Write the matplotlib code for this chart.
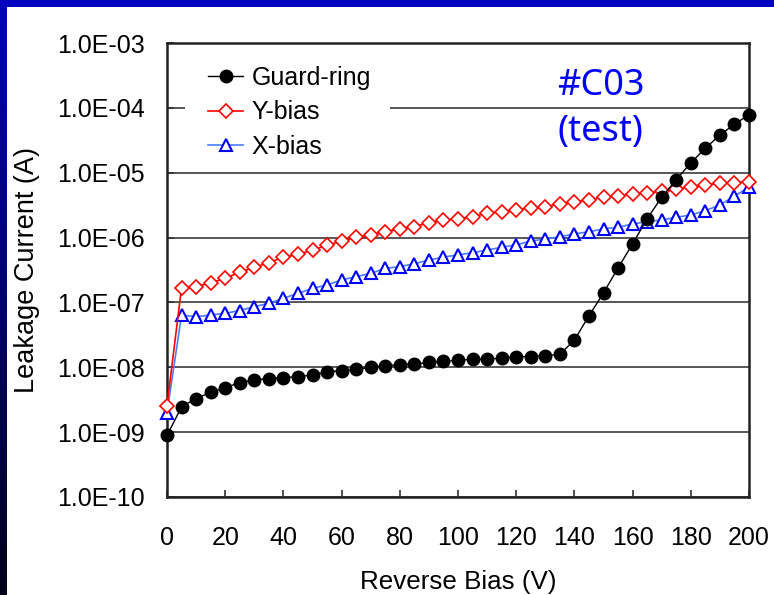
import matplotlib
matplotlib.use("Agg")
import matplotlib.pyplot as plt
import numpy as np
from matplotlib.patches import Rectangle
from matplotlib.ticker import FuncFormatter

plt.rcParams['font.family'] = ['Liberation Sans', 'DejaVu Sans']

bias = [0, 5, 10, 15, 20, 25, 30, 35, 40, 45, 50, 55, 60, 65, 70, 75, 80, 85, 90, 95, 100,
        105, 110, 115, 120, 125, 130, 135, 140, 145, 150, 155, 160, 165, 170, 175, 180,
        185, 190, 195, 200]

guard_ring = [8.9e-10, 2.45e-9, 3.3e-9, 4.1e-9, 4.85e-9, 5.8e-9, 6.4e-9, 6.7e-9, 6.9e-9,
              7.2e-9, 7.6e-9, 8.5e-9, 8.9e-9, 9.3e-9, 1.0e-8, 1.06e-8, 1.1e-8, 1.12e-8,
              1.19e-8, 1.24e-8, 1.28e-8, 1.33e-8, 1.33e-8, 1.39e-8, 1.46e-8, 1.46e-8,
              1.51e-8, 1.58e-8, 2.64e-8, 6.2e-8, 1.4e-7, 3.4e-7, 8.0e-7, 1.95e-6, 4.2e-6,
              7.8e-6, 1.42e-5, 2.38e-5, 3.82e-5, 5.57e-5, 7.85e-5]

y_bias = [2.56e-9, 1.69e-7, 1.75e-7, 2.0e-7, 2.36e-7, 2.92e-7, 3.48e-7, 4.1e-7, 4.97e-7,
          5.5e-7, 6.43e-7, 7.6e-7, 8.85e-7, 1.01e-6, 1.1e-6, 1.23e-6, 1.36e-6, 1.47e-6,
          1.7e-6, 1.86e-6, 1.95e-6, 2.1e-6, 2.37e-6, 2.5e-6, 2.66e-6, 2.89e-6, 3.0e-6,
          3.3e-6, 3.57e-6, 3.79e-6, 4.18e-6, 4.38e-6, 4.7e-6, 4.8e-6, 5.2e-6, 5.55e-6,
          6.1e-6, 6.5e-6, 6.9e-6, 7.0e-6, 7.3e-6]

x_bias = [2.0e-9, 6.4e-8, 6.0e-8, 6.4e-8, 6.8e-8, 7.5e-8, 8.6e-8, 9.7e-8, 1.16e-7, 1.38e-7,
          1.65e-7, 1.86e-7, 2.22e-7, 2.5e-7, 2.8e-7, 3.36e-7, 3.56e-7, 3.95e-7, 4.5e-7,
          5.0e-7, 5.4e-7, 5.85e-7, 6.4e-7, 7.1e-7, 7.7e-7, 8.85e-7, 9.5e-7, 1.03e-6,
          1.14e-6, 1.23e-6, 1.36e-6, 1.44e-6, 1.62e-6, 1.76e-6, 1.87e-6, 2.05e-6, 2.23e-6,
          2.6e-6, 3.18e-6, 4.38e-6, 5.95e-6]

x_ticks = [0, 20, 40, 60, 80, 100, 120, 140, 160, 180, 200]
y_ticks = [1e-10, 1e-9, 1e-8, 1e-7, 1e-6, 1e-5, 1e-4, 1e-3]

fig = plt.figure(figsize=(7.74, 5.95), dpi=100)
fig.patch.set_facecolor('white')

# blue slide frame: top band and a left strip fading to dark
fig.add_artist(Rectangle((0, 1 - 7 / 595), 1, 7 / 595, transform=fig.transFigure,
                         facecolor='#0000c0', edgecolor='none'))
strip = fig.add_axes([0, 0, 7 / 774, 1])
grad = np.linspace(0, 1, 256).reshape(-1, 1)
cols = np.zeros((256, 1, 3))
cols[:, 0, 2] = 0.75 - 0.65 * grad[:, 0]
strip.imshow(cols, aspect='auto', extent=(0, 1, 0, 1))
strip.axis('off')

ax = fig.add_axes([167 / 774, 1 - 497 / 595, (749 - 167) / 774, (497 - 43) / 595])
ax.set_yscale('log')
ax.set_xlim(0, 200)
ax.set_ylim(1e-10, 1e-3)

ax.grid(True, axis='y', color='#4a4a4a', linewidth=1.3)
ax.set_axisbelow(True)

# white box behind the legend hides the 1E-04 grid line there
ax.add_patch(Rectangle((0.031, 0.735), 0.352, 0.26, transform=ax.transAxes,
                       facecolor='white', edgecolor='none', zorder=1))

ax.plot(bias, guard_ring, '-', color='black', linewidth=1.0, marker='o', markersize=9,
        markerfacecolor='black', markeredgecolor='black', label='Guard-ring', clip_on=False,
        zorder=5)
ax.plot(bias, y_bias, '-', color='#ff0000', linewidth=1.2, marker='D', markersize=7,
        markerfacecolor='white', markeredgecolor='#ff0000', markeredgewidth=1.2,
        label='Y-bias', clip_on=False, zorder=4)
ax.plot(bias, x_bias, '-', color='#4d7dff', linewidth=1.2, marker='^', markersize=9,
        markerfacecolor='white', markeredgecolor='#0000ff', markeredgewidth=1.5,
        label='X-bias', clip_on=False, zorder=3)

ax.set_xticks(x_ticks)
ax.set_yticks(y_ticks)
ax.yaxis.set_major_formatter(FuncFormatter(lambda v, p: f"{v:.1E}"))
ax.minorticks_off()
ax.tick_params(axis='both', direction='in', length=5, width=1.2, color='#333333',
               labelsize=18)
ax.tick_params(axis='y', pad=16)
ax.tick_params(axis='x', pad=21)

for s in ax.spines.values():
    s.set_color('#222222')
    s.set_linewidth(1.8)

ax.set_xlabel('Reverse Bias (V)', fontsize=18.7, labelpad=14)
ax.set_ylabel('Leakage Current (A)', fontsize=19.5, labelpad=12)

ax.legend(loc='upper left', bbox_to_anchor=(0.049, 0.977), fontsize=18,
          frameon=False, handlelength=1.4, handletextpad=0.35,
          labelspacing=0.42, borderpad=0)

ax.text(0.745, 0.905, '#C03', transform=ax.transAxes, fontsize=26, color='#0000ff',
        ha='center', va='center', family='Noto Sans')
ax.text(0.745, 0.805, '(test)', transform=ax.transAxes, fontsize=26, color='#0000ff',
        ha='center', va='center', family='Noto Sans')

fig.savefig('out.png', dpi=100)
